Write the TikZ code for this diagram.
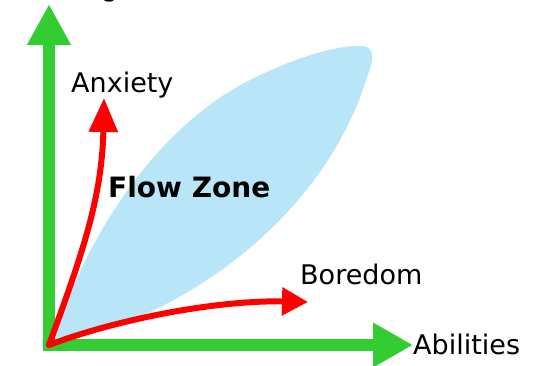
\documentclass[tikz,border=0pt]{standalone}
\usepackage{fontspec}
\setmainfont{DejaVu Sans}
\usetikzlibrary{arrows.meta}
\definecolor{axisgreen}{RGB}{51,204,51}
\definecolor{flowred}{RGB}{255,0,0}
\definecolor{zoneblue}{RGB}{184,230,248}
\tikzset{
  axis/.style={draw=axisgreen, line width=12pt},
  trend/.style={draw=flowred, line width=6pt},
  lbl/.style={font=\fontsize{27}{30}\selectfont, inner sep=0pt, text=black},
}
\begin{document}
\begin{tikzpicture}[x=1pt,y=-1pt]
\useasboundingbox (0,0) rectangle (559,365);
% flow zone
\fill[zoneblue] (55,338) .. controls (80,250) and (150,130) .. (250,80)
  .. controls (300,55) and (340,45) .. (362,46)
  .. controls (375,47) and (374,60) .. (368,74)
  .. controls (340,170) and (260,260) .. (150,312)
  .. controls (110,328) and (80,335) .. (55,338) -- cycle;
% coordinates
\coordinate (o) at (49,345);
\coordinate (overt) at (49,351);
\coordinate (ohor) at (43,345);
\coordinate (ytip) at (49,4);
\coordinate (xtip) at (413,345);
\coordinate (atip) at (104,98);
\coordinate (btip) at (308,302);
% axes
\draw[axis, -{Triangle[length=41pt,width=41pt]}] (overt) -- (ytip);
\draw[axis, -{Triangle[length=40pt,width=42pt]}] (ohor) -- (xtip);
% trends
\draw[trend, line cap=round, -{Triangle[length=34pt,width=28pt]}] (o) .. controls (80,260) and (102,200) .. (atip);
\draw[trend, line cap=round, -{Triangle[length=26pt,width=27pt]}] (o) .. controls (120,318) and (220,300) .. (btip);
% labels
\node[lbl, anchor=base west] (anx) at (71,92) {Anxiety};
\node[lbl, anchor=base west] (bor) at (300,284) {Boredom};
\node[lbl, anchor=base west] (abi) at (413,354) {Abilities};
\node[lbl, anchor=base west, font=\fontsize{28}{30}\selectfont\bfseries] (flow) at (108,197) {Flow Zone};
\begin{scope}
\clip (0,0) rectangle (559,365);
\node[lbl, anchor=base west] (chal) at (0,-3.5) {Challenges};
\end{scope}
\end{tikzpicture}
\end{document}
